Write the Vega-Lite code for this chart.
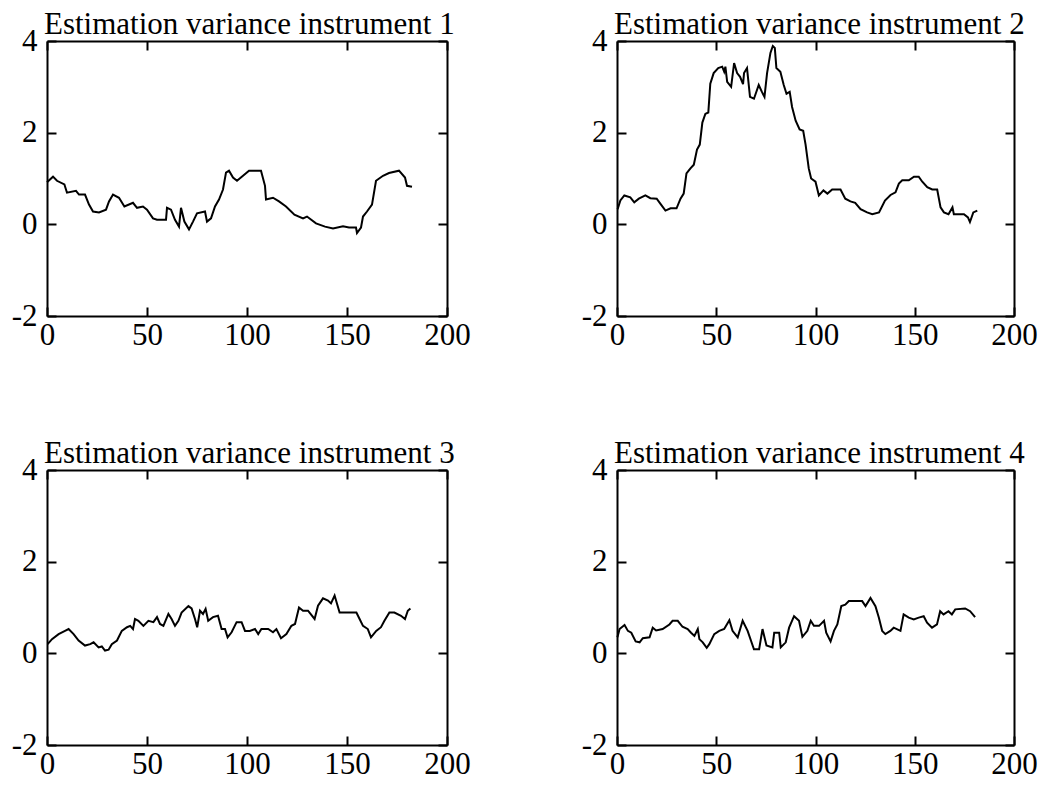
{
  "$schema": "https://vega.github.io/schema/vega-lite/v6.json",
  "background": "white",
  "padding": {"left": 11, "top": 9, "right": 0, "bottom": 0},
  "datasets": {
    "variance": [
      {"instrument": 1, "t": 0, "v": 0.92}, {"instrument": 1, "t": 3, "v": 1.04}, {"instrument": 1, "t": 5, "v": 0.95},
      {"instrument": 1, "t": 8.7, "v": 0.87}, {"instrument": 1, "t": 10, "v": 0.69}, {"instrument": 1, "t": 14.5, "v": 0.73},
      {"instrument": 1, "t": 16, "v": 0.65}, {"instrument": 1, "t": 19, "v": 0.65}, {"instrument": 1, "t": 21, "v": 0.43},
      {"instrument": 1, "t": 23, "v": 0.28}, {"instrument": 1, "t": 26, "v": 0.26}, {"instrument": 1, "t": 29.5, "v": 0.32},
      {"instrument": 1, "t": 31, "v": 0.5}, {"instrument": 1, "t": 33, "v": 0.65}, {"instrument": 1, "t": 36, "v": 0.58},
      {"instrument": 1, "t": 38.7, "v": 0.39}, {"instrument": 1, "t": 43, "v": 0.47}, {"instrument": 1, "t": 45, "v": 0.36},
      {"instrument": 1, "t": 48, "v": 0.39}, {"instrument": 1, "t": 50, "v": 0.32}, {"instrument": 1, "t": 53, "v": 0.13},
      {"instrument": 1, "t": 55, "v": 0.1}, {"instrument": 1, "t": 59.5, "v": 0.1}, {"instrument": 1, "t": 60, "v": 0.36},
      {"instrument": 1, "t": 62, "v": 0.32}, {"instrument": 1, "t": 64, "v": 0.1}, {"instrument": 1, "t": 66, "v": -0.05},
      {"instrument": 1, "t": 67, "v": 0.36}, {"instrument": 1, "t": 68.7, "v": 0.06}, {"instrument": 1, "t": 71, "v": -0.11},
      {"instrument": 1, "t": 73, "v": 0.06}, {"instrument": 1, "t": 75, "v": 0.24}, {"instrument": 1, "t": 79, "v": 0.28},
      {"instrument": 1, "t": 80, "v": 0.06}, {"instrument": 1, "t": 82, "v": 0.13}, {"instrument": 1, "t": 84, "v": 0.39},
      {"instrument": 1, "t": 86, "v": 0.54}, {"instrument": 1, "t": 88, "v": 0.76}, {"instrument": 1, "t": 89.5, "v": 1.13},
      {"instrument": 1, "t": 91, "v": 1.17}, {"instrument": 1, "t": 93, "v": 1.02}, {"instrument": 1, "t": 95, "v": 0.95},
      {"instrument": 1, "t": 98, "v": 1.06}, {"instrument": 1, "t": 101, "v": 1.17}, {"instrument": 1, "t": 107, "v": 1.17},
      {"instrument": 1, "t": 109, "v": 0.84}, {"instrument": 1, "t": 109.5, "v": 0.54}, {"instrument": 1, "t": 113, "v": 0.58},
      {"instrument": 1, "t": 116, "v": 0.5}, {"instrument": 1, "t": 119.5, "v": 0.39}, {"instrument": 1, "t": 123.7, "v": 0.21},
      {"instrument": 1, "t": 128, "v": 0.13}, {"instrument": 1, "t": 130, "v": 0.17}, {"instrument": 1, "t": 134.5, "v": 0.02},
      {"instrument": 1, "t": 139, "v": -0.05}, {"instrument": 1, "t": 143, "v": -0.09}, {"instrument": 1, "t": 148, "v": -0.04},
      {"instrument": 1, "t": 151, "v": -0.07}, {"instrument": 1, "t": 154.5, "v": -0.07}, {"instrument": 1, "t": 155, "v": -0.19},
      {"instrument": 1, "t": 157, "v": -0.07}, {"instrument": 1, "t": 158, "v": 0.17}, {"instrument": 1, "t": 160, "v": 0.28},
      {"instrument": 1, "t": 162.5, "v": 0.43}, {"instrument": 1, "t": 164.5, "v": 0.95}, {"instrument": 1, "t": 168, "v": 1.06},
      {"instrument": 1, "t": 171, "v": 1.12}, {"instrument": 1, "t": 176, "v": 1.17}, {"instrument": 1, "t": 179, "v": 1.02},
      {"instrument": 1, "t": 180, "v": 0.84}, {"instrument": 1, "t": 182.5, "v": 0.82},

      {"instrument": 2, "t": 0.3, "v": 0.33}, {"instrument": 2, "t": 1.7, "v": 0.52}, {"instrument": 2, "t": 3.7, "v": 0.63},
      {"instrument": 2, "t": 6.7, "v": 0.59}, {"instrument": 2, "t": 8.7, "v": 0.48}, {"instrument": 2, "t": 11, "v": 0.56},
      {"instrument": 2, "t": 14.3, "v": 0.63}, {"instrument": 2, "t": 16.8, "v": 0.57}, {"instrument": 2, "t": 20, "v": 0.56},
      {"instrument": 2, "t": 22, "v": 0.44}, {"instrument": 2, "t": 24.4, "v": 0.3}, {"instrument": 2, "t": 27, "v": 0.35},
      {"instrument": 2, "t": 30, "v": 0.35}, {"instrument": 2, "t": 32, "v": 0.56}, {"instrument": 2, "t": 33.6, "v": 0.67},
      {"instrument": 2, "t": 35, "v": 1.11}, {"instrument": 2, "t": 37, "v": 1.22}, {"instrument": 2, "t": 38.7, "v": 1.3},
      {"instrument": 2, "t": 40.3, "v": 1.63}, {"instrument": 2, "t": 41.7, "v": 1.74}, {"instrument": 2, "t": 43, "v": 2.22},
      {"instrument": 2, "t": 44.5, "v": 2.41}, {"instrument": 2, "t": 46, "v": 2.44}, {"instrument": 2, "t": 47, "v": 3.07},
      {"instrument": 2, "t": 48.7, "v": 3.3}, {"instrument": 2, "t": 51, "v": 3.41}, {"instrument": 2, "t": 53, "v": 3.44},
      {"instrument": 2, "t": 54, "v": 3.33}, {"instrument": 2, "t": 54.6, "v": 3.44}, {"instrument": 2, "t": 55.5, "v": 3.11},
      {"instrument": 2, "t": 57.5, "v": 3.0}, {"instrument": 2, "t": 59, "v": 3.52}, {"instrument": 2, "t": 60.5, "v": 3.3},
      {"instrument": 2, "t": 62, "v": 3.22}, {"instrument": 2, "t": 63.5, "v": 3.06}, {"instrument": 2, "t": 64, "v": 3.3},
      {"instrument": 2, "t": 65.5, "v": 3.41}, {"instrument": 2, "t": 67, "v": 2.78}, {"instrument": 2, "t": 69, "v": 2.74},
      {"instrument": 2, "t": 71.4, "v": 3.04}, {"instrument": 2, "t": 73, "v": 2.89}, {"instrument": 2, "t": 74.3, "v": 2.78},
      {"instrument": 2, "t": 75.6, "v": 3.3}, {"instrument": 2, "t": 77.3, "v": 3.74}, {"instrument": 2, "t": 78.5, "v": 3.89},
      {"instrument": 2, "t": 79.5, "v": 3.85}, {"instrument": 2, "t": 80.3, "v": 3.41}, {"instrument": 2, "t": 82.3, "v": 3.33},
      {"instrument": 2, "t": 84, "v": 3.04}, {"instrument": 2, "t": 85.4, "v": 2.85}, {"instrument": 2, "t": 87, "v": 2.89},
      {"instrument": 2, "t": 88.2, "v": 2.56}, {"instrument": 2, "t": 90, "v": 2.26}, {"instrument": 2, "t": 92, "v": 2.07},
      {"instrument": 2, "t": 93.8, "v": 2.04}, {"instrument": 2, "t": 95, "v": 1.74}, {"instrument": 2, "t": 96.6, "v": 1.22},
      {"instrument": 2, "t": 97.8, "v": 1.0}, {"instrument": 2, "t": 100, "v": 0.93}, {"instrument": 2, "t": 101.7, "v": 0.63},
      {"instrument": 2, "t": 104, "v": 0.74}, {"instrument": 2, "t": 106, "v": 0.67}, {"instrument": 2, "t": 108.4, "v": 0.76},
      {"instrument": 2, "t": 112.6, "v": 0.76}, {"instrument": 2, "t": 115, "v": 0.56}, {"instrument": 2, "t": 117.6, "v": 0.5},
      {"instrument": 2, "t": 120, "v": 0.47}, {"instrument": 2, "t": 122.7, "v": 0.33}, {"instrument": 2, "t": 126, "v": 0.26},
      {"instrument": 2, "t": 128.6, "v": 0.22}, {"instrument": 2, "t": 132, "v": 0.26}, {"instrument": 2, "t": 135, "v": 0.52},
      {"instrument": 2, "t": 137.8, "v": 0.64}, {"instrument": 2, "t": 140.3, "v": 0.7}, {"instrument": 2, "t": 142, "v": 0.89},
      {"instrument": 2, "t": 143.7, "v": 0.96}, {"instrument": 2, "t": 147, "v": 0.96}, {"instrument": 2, "t": 149.6, "v": 1.04},
      {"instrument": 2, "t": 152, "v": 1.04}, {"instrument": 2, "t": 153.8, "v": 0.93}, {"instrument": 2, "t": 156.3, "v": 0.81},
      {"instrument": 2, "t": 158.8, "v": 0.76}, {"instrument": 2, "t": 161.3, "v": 0.76}, {"instrument": 2, "t": 163, "v": 0.37},
      {"instrument": 2, "t": 164.7, "v": 0.26}, {"instrument": 2, "t": 167, "v": 0.22}, {"instrument": 2, "t": 169, "v": 0.37},
      {"instrument": 2, "t": 169.7, "v": 0.22}, {"instrument": 2, "t": 174.8, "v": 0.22}, {"instrument": 2, "t": 176.8, "v": 0.15},
      {"instrument": 2, "t": 177.8, "v": 0.05}, {"instrument": 2, "t": 179.5, "v": 0.26}, {"instrument": 2, "t": 181.5, "v": 0.3},

      {"instrument": 3, "t": 0.3, "v": 0.2}, {"instrument": 3, "t": 2.5, "v": 0.31}, {"instrument": 3, "t": 5.8, "v": 0.42},
      {"instrument": 3, "t": 9, "v": 0.49}, {"instrument": 3, "t": 10.8, "v": 0.53}, {"instrument": 3, "t": 13.3, "v": 0.42},
      {"instrument": 3, "t": 15.8, "v": 0.28}, {"instrument": 3, "t": 19, "v": 0.17}, {"instrument": 3, "t": 21.6, "v": 0.2},
      {"instrument": 3, "t": 23.3, "v": 0.24}, {"instrument": 3, "t": 25.8, "v": 0.13}, {"instrument": 3, "t": 27.4, "v": 0.15},
      {"instrument": 3, "t": 29, "v": 0.06}, {"instrument": 3, "t": 30.8, "v": 0.08}, {"instrument": 3, "t": 32.4, "v": 0.2},
      {"instrument": 3, "t": 35, "v": 0.28}, {"instrument": 3, "t": 37.4, "v": 0.49}, {"instrument": 3, "t": 40, "v": 0.57},
      {"instrument": 3, "t": 41.6, "v": 0.6}, {"instrument": 3, "t": 43, "v": 0.53}, {"instrument": 3, "t": 44, "v": 0.75},
      {"instrument": 3, "t": 45.7, "v": 0.71}, {"instrument": 3, "t": 48.2, "v": 0.6}, {"instrument": 3, "t": 50.7, "v": 0.71},
      {"instrument": 3, "t": 53.2, "v": 0.68}, {"instrument": 3, "t": 55, "v": 0.79}, {"instrument": 3, "t": 56.5, "v": 0.64},
      {"instrument": 3, "t": 58.2, "v": 0.6}, {"instrument": 3, "t": 60.7, "v": 0.86}, {"instrument": 3, "t": 62.3, "v": 0.75},
      {"instrument": 3, "t": 64, "v": 0.6}, {"instrument": 3, "t": 65.7, "v": 0.71}, {"instrument": 3, "t": 67.3, "v": 0.89},
      {"instrument": 3, "t": 70.7, "v": 1.03}, {"instrument": 3, "t": 72.3, "v": 0.98}, {"instrument": 3, "t": 74, "v": 0.75},
      {"instrument": 3, "t": 75.1, "v": 0.57}, {"instrument": 3, "t": 76.5, "v": 0.93}, {"instrument": 3, "t": 78, "v": 0.86},
      {"instrument": 3, "t": 79.3, "v": 0.97}, {"instrument": 3, "t": 80.6, "v": 0.71}, {"instrument": 3, "t": 83, "v": 0.79},
      {"instrument": 3, "t": 85.5, "v": 0.82}, {"instrument": 3, "t": 87.3, "v": 0.53}, {"instrument": 3, "t": 89, "v": 0.53},
      {"instrument": 3, "t": 90.3, "v": 0.35}, {"instrument": 3, "t": 92.3, "v": 0.46}, {"instrument": 3, "t": 94.8, "v": 0.68},
      {"instrument": 3, "t": 97.3, "v": 0.68}, {"instrument": 3, "t": 99, "v": 0.49}, {"instrument": 3, "t": 101.4, "v": 0.49},
      {"instrument": 3, "t": 104, "v": 0.53}, {"instrument": 3, "t": 105.6, "v": 0.42}, {"instrument": 3, "t": 107.2, "v": 0.53},
      {"instrument": 3, "t": 110.6, "v": 0.53}, {"instrument": 3, "t": 113, "v": 0.46}, {"instrument": 3, "t": 114.7, "v": 0.53},
      {"instrument": 3, "t": 117, "v": 0.33}, {"instrument": 3, "t": 119.7, "v": 0.42}, {"instrument": 3, "t": 122.2, "v": 0.6},
      {"instrument": 3, "t": 124, "v": 0.64}, {"instrument": 3, "t": 126, "v": 1.0}, {"instrument": 3, "t": 128, "v": 0.93},
      {"instrument": 3, "t": 130.5, "v": 0.93}, {"instrument": 3, "t": 133.8, "v": 0.75}, {"instrument": 3, "t": 135.5, "v": 1.04},
      {"instrument": 3, "t": 138, "v": 1.2}, {"instrument": 3, "t": 140.5, "v": 1.15}, {"instrument": 3, "t": 142, "v": 1.09},
      {"instrument": 3, "t": 143.8, "v": 1.26}, {"instrument": 3, "t": 146.3, "v": 0.89}, {"instrument": 3, "t": 149.7, "v": 0.89},
      {"instrument": 3, "t": 154.7, "v": 0.89}, {"instrument": 3, "t": 156.3, "v": 0.75}, {"instrument": 3, "t": 158, "v": 0.6},
      {"instrument": 3, "t": 160.4, "v": 0.53}, {"instrument": 3, "t": 162, "v": 0.35}, {"instrument": 3, "t": 164.6, "v": 0.49},
      {"instrument": 3, "t": 167, "v": 0.57}, {"instrument": 3, "t": 168.7, "v": 0.71}, {"instrument": 3, "t": 171.2, "v": 0.89},
      {"instrument": 3, "t": 173.7, "v": 0.89}, {"instrument": 3, "t": 177, "v": 0.82}, {"instrument": 3, "t": 179, "v": 0.75},
      {"instrument": 3, "t": 180.4, "v": 0.93}, {"instrument": 3, "t": 181.7, "v": 0.98},

      {"instrument": 4, "t": 0.2, "v": 0.35}, {"instrument": 4, "t": 1.3, "v": 0.53}, {"instrument": 4, "t": 3.8, "v": 0.62},
      {"instrument": 4, "t": 5.5, "v": 0.49}, {"instrument": 4, "t": 7.2, "v": 0.45}, {"instrument": 4, "t": 9.4, "v": 0.26},
      {"instrument": 4, "t": 11.4, "v": 0.24}, {"instrument": 4, "t": 13, "v": 0.33}, {"instrument": 4, "t": 16.4, "v": 0.35},
      {"instrument": 4, "t": 18, "v": 0.56}, {"instrument": 4, "t": 19.7, "v": 0.5}, {"instrument": 4, "t": 23, "v": 0.53},
      {"instrument": 4, "t": 26.4, "v": 0.63}, {"instrument": 4, "t": 28, "v": 0.71}, {"instrument": 4, "t": 30.6, "v": 0.71},
      {"instrument": 4, "t": 33, "v": 0.58}, {"instrument": 4, "t": 35.6, "v": 0.53}, {"instrument": 4, "t": 37.3, "v": 0.45},
      {"instrument": 4, "t": 39, "v": 0.38}, {"instrument": 4, "t": 40.7, "v": 0.53}, {"instrument": 4, "t": 41.5, "v": 0.31},
      {"instrument": 4, "t": 43.2, "v": 0.24}, {"instrument": 4, "t": 45.2, "v": 0.12}, {"instrument": 4, "t": 46.5, "v": 0.2},
      {"instrument": 4, "t": 49, "v": 0.42}, {"instrument": 4, "t": 51.5, "v": 0.49}, {"instrument": 4, "t": 54, "v": 0.53},
      {"instrument": 4, "t": 56.6, "v": 0.72}, {"instrument": 4, "t": 58.2, "v": 0.49}, {"instrument": 4, "t": 60.8, "v": 0.35},
      {"instrument": 4, "t": 63.3, "v": 0.71}, {"instrument": 4, "t": 65.8, "v": 0.49}, {"instrument": 4, "t": 69, "v": 0.09},
      {"instrument": 4, "t": 71.6, "v": 0.09}, {"instrument": 4, "t": 73.3, "v": 0.53}, {"instrument": 4, "t": 75.3, "v": 0.17},
      {"instrument": 4, "t": 78.3, "v": 0.13}, {"instrument": 4, "t": 79.2, "v": 0.45}, {"instrument": 4, "t": 81.7, "v": 0.45},
      {"instrument": 4, "t": 82.5, "v": 0.13}, {"instrument": 4, "t": 85, "v": 0.24}, {"instrument": 4, "t": 86.7, "v": 0.56},
      {"instrument": 4, "t": 89.2, "v": 0.81}, {"instrument": 4, "t": 91.7, "v": 0.71}, {"instrument": 4, "t": 93.4, "v": 0.36},
      {"instrument": 4, "t": 95.9, "v": 0.49}, {"instrument": 4, "t": 97.6, "v": 0.71}, {"instrument": 4, "t": 99.2, "v": 0.6},
      {"instrument": 4, "t": 101.8, "v": 0.6}, {"instrument": 4, "t": 104.3, "v": 0.71}, {"instrument": 4, "t": 105.4, "v": 0.45},
      {"instrument": 4, "t": 107.6, "v": 0.26}, {"instrument": 4, "t": 109.3, "v": 0.49}, {"instrument": 4, "t": 111, "v": 0.63},
      {"instrument": 4, "t": 113, "v": 1.03}, {"instrument": 4, "t": 115, "v": 1.06}, {"instrument": 4, "t": 116.8, "v": 1.14},
      {"instrument": 4, "t": 120.2, "v": 1.14}, {"instrument": 4, "t": 123.5, "v": 1.14}, {"instrument": 4, "t": 125.2, "v": 1.03},
      {"instrument": 4, "t": 127.7, "v": 1.21}, {"instrument": 4, "t": 130.2, "v": 1.03}, {"instrument": 4, "t": 131.9, "v": 0.78},
      {"instrument": 4, "t": 133.6, "v": 0.49}, {"instrument": 4, "t": 135.2, "v": 0.42}, {"instrument": 4, "t": 137.7, "v": 0.49},
      {"instrument": 4, "t": 139.4, "v": 0.56}, {"instrument": 4, "t": 142.8, "v": 0.49}, {"instrument": 4, "t": 144.4, "v": 0.85},
      {"instrument": 4, "t": 147, "v": 0.78}, {"instrument": 4, "t": 149.5, "v": 0.74}, {"instrument": 4, "t": 152, "v": 0.78},
      {"instrument": 4, "t": 154.5, "v": 0.81}, {"instrument": 4, "t": 156.2, "v": 0.67}, {"instrument": 4, "t": 158.7, "v": 0.56},
      {"instrument": 4, "t": 161.2, "v": 0.63}, {"instrument": 4, "t": 162.8, "v": 0.92}, {"instrument": 4, "t": 164.5, "v": 0.85},
      {"instrument": 4, "t": 167, "v": 0.92}, {"instrument": 4, "t": 168.7, "v": 0.85}, {"instrument": 4, "t": 170.4, "v": 0.96},
      {"instrument": 4, "t": 175.4, "v": 0.98}, {"instrument": 4, "t": 177.9, "v": 0.92}, {"instrument": 4, "t": 180.4, "v": 0.79}
    ]
  },
  "data": {"name": "variance"},
  "columns": 2,
  "spacing": {"column": 110, "row": 88},
  "concat": [
    {
      "title": "Estimation variance instrument 1",
      "width": 400, "height": 275,
      "transform": [{"filter": "datum.instrument == 1"}],
      "layer": [
        {"mark": {"type": "line", "color": "black", "strokeWidth": 2},
         "encoding": {
           "x": {"field": "t", "type": "quantitative", "scale": {"domain": [0, 200], "nice": false}, "axis": {"orient": "bottom", "values": [0, 50, 100, 150, 200], "labelPadding": 13}},
           "y": {"field": "v", "type": "quantitative", "scale": {"domain": [-2, 4], "nice": false, "zero": false}, "axis": {"orient": "left", "values": [-2, 0, 2, 4], "labelPadding": 19}}}},
        {"mark": {"type": "line", "opacity": 0},
         "encoding": {
           "x": {"field": "t", "type": "quantitative", "scale": {"domain": [0, 200], "nice": false}, "axis": {"orient": "top", "labels": false, "values": [0, 50, 100, 150, 200]}},
           "y": {"field": "v", "type": "quantitative", "scale": {"domain": [-2, 4], "nice": false, "zero": false}, "axis": {"orient": "right", "labels": false, "values": [-2, 0, 2, 4]}}}}
      ],
      "resolve": {"axis": {"x": "independent", "y": "independent"}}
    },
    {
      "title": "Estimation variance instrument 2",
      "width": 397, "height": 275,
      "transform": [{"filter": "datum.instrument == 2"}],
      "layer": [
        {"mark": {"type": "line", "color": "black", "strokeWidth": 2},
         "encoding": {
           "x": {"field": "t", "type": "quantitative", "scale": {"domain": [0, 200], "nice": false}, "axis": {"orient": "bottom", "values": [0, 50, 100, 150, 200], "labelPadding": 13}},
           "y": {"field": "v", "type": "quantitative", "scale": {"domain": [-2, 4], "nice": false, "zero": false}, "axis": {"orient": "left", "values": [-2, 0, 2, 4], "labelPadding": 19}}}},
        {"mark": {"type": "line", "opacity": 0},
         "encoding": {
           "x": {"field": "t", "type": "quantitative", "scale": {"domain": [0, 200], "nice": false}, "axis": {"orient": "top", "labels": false, "values": [0, 50, 100, 150, 200]}},
           "y": {"field": "v", "type": "quantitative", "scale": {"domain": [-2, 4], "nice": false, "zero": false}, "axis": {"orient": "right", "labels": false, "values": [-2, 0, 2, 4]}}}}
      ],
      "resolve": {"axis": {"x": "independent", "y": "independent"}}
    },
    {
      "title": "Estimation variance instrument 3",
      "width": 400, "height": 275,
      "transform": [{"filter": "datum.instrument == 3"}],
      "layer": [
        {"mark": {"type": "line", "color": "black", "strokeWidth": 2},
         "encoding": {
           "x": {"field": "t", "type": "quantitative", "scale": {"domain": [0, 200], "nice": false}, "axis": {"orient": "bottom", "values": [0, 50, 100, 150, 200], "labelPadding": 13}},
           "y": {"field": "v", "type": "quantitative", "scale": {"domain": [-2, 4], "nice": false, "zero": false}, "axis": {"orient": "left", "values": [-2, 0, 2, 4], "labelPadding": 19}}}},
        {"mark": {"type": "line", "opacity": 0},
         "encoding": {
           "x": {"field": "t", "type": "quantitative", "scale": {"domain": [0, 200], "nice": false}, "axis": {"orient": "top", "labels": false, "values": [0, 50, 100, 150, 200]}},
           "y": {"field": "v", "type": "quantitative", "scale": {"domain": [-2, 4], "nice": false, "zero": false}, "axis": {"orient": "right", "labels": false, "values": [-2, 0, 2, 4]}}}}
      ],
      "resolve": {"axis": {"x": "independent", "y": "independent"}}
    },
    {
      "title": "Estimation variance instrument 4",
      "width": 397, "height": 275,
      "transform": [{"filter": "datum.instrument == 4"}],
      "layer": [
        {"mark": {"type": "line", "color": "black", "strokeWidth": 2},
         "encoding": {
           "x": {"field": "t", "type": "quantitative", "scale": {"domain": [0, 200], "nice": false}, "axis": {"orient": "bottom", "values": [0, 50, 100, 150, 200], "labelPadding": 13}},
           "y": {"field": "v", "type": "quantitative", "scale": {"domain": [-2, 4], "nice": false, "zero": false}, "axis": {"orient": "left", "values": [-2, 0, 2, 4], "labelPadding": 19}}}},
        {"mark": {"type": "line", "opacity": 0},
         "encoding": {
           "x": {"field": "t", "type": "quantitative", "scale": {"domain": [0, 200], "nice": false}, "axis": {"orient": "top", "labels": false, "values": [0, 50, 100, 150, 200]}},
           "y": {"field": "v", "type": "quantitative", "scale": {"domain": [-2, 4], "nice": false, "zero": false}, "axis": {"orient": "right", "labels": false, "values": [-2, 0, 2, 4]}}}}
      ],
      "resolve": {"axis": {"x": "independent", "y": "independent"}}
    }
  ],
  "config": {
    "view": {"stroke": null},
    "axis": {
      "title": null,
      "grid": false,
      "domainColor": "black",
      "domainWidth": 2,
      "tickColor": "black",
      "tickWidth": 2,
      "tickSize": -9,
      "labelFont": "Liberation Serif",
      "labelFontSize": 31,
      "labelColor": "black",
      "labelFlush": false,
      "labelOverlap": false,
      "labelExpr": "'' + datum.value"
    },
    "title": {
      "font": "Liberation Serif",
      "fontSize": 31,
      "fontWeight": "normal",
      "color": "black",
      "anchor": "start",
      "frame": "group",
      "baseline": "alphabetic",
      "offset": -16,
      "dx": -3
    }
  }
}
